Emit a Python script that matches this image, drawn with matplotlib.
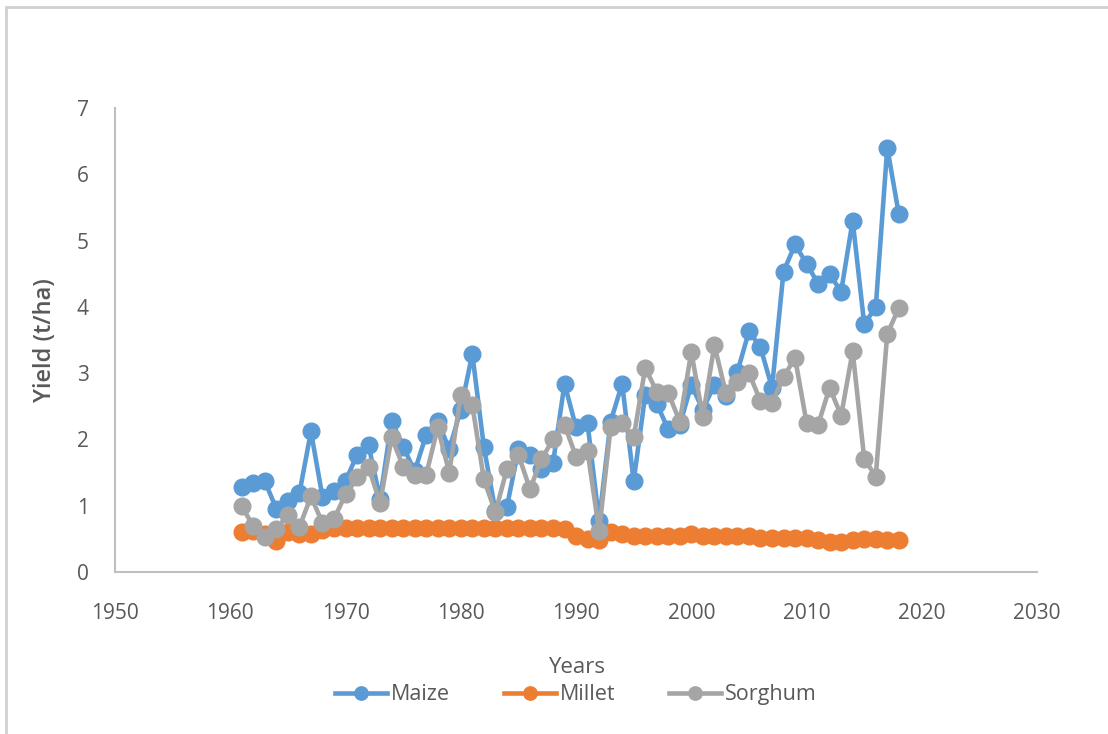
import matplotlib.pyplot as plt
from matplotlib.patches import Rectangle

years = list(range(1961, 2019))

maize = [1.28, 1.34, 1.37, 0.95, 1.07, 1.19, 2.12, 1.13, 1.22, 1.37,
         1.77, 1.91, 1.10, 2.28, 1.89, 1.52, 2.07, 2.28, 1.85, 2.45,
         3.29, 1.89, 0.92, 0.98, 1.85, 1.76, 1.55, 1.64, 2.84, 2.18,
         2.24, 0.77, 2.27, 2.84, 1.37, 2.67, 2.54, 2.15, 2.22, 2.82,
         2.45, 2.82, 2.66, 3.02, 3.63, 3.39, 2.78, 4.53, 4.94, 4.65,
         4.35, 4.49, 4.23, 5.30, 3.74, 3.99, 6.40, 5.40]

millet = [0.60, 0.62, 0.58, 0.47, 0.60, 0.58, 0.58, 0.64, 0.66, 0.66,
          0.66, 0.66, 0.66, 0.66, 0.66, 0.66, 0.66, 0.66, 0.66, 0.66,
          0.66, 0.66, 0.66, 0.66, 0.66, 0.66, 0.66, 0.66, 0.65, 0.55,
          0.50, 0.48, 0.60, 0.57, 0.55, 0.54, 0.54, 0.54, 0.55, 0.58,
          0.55, 0.55, 0.54, 0.55, 0.55, 0.52, 0.52, 0.52, 0.52, 0.52,
          0.48, 0.45, 0.45, 0.48, 0.50, 0.50, 0.48, 0.48]

sorghum = [0.99, 0.69, 0.53, 0.65, 0.86, 0.68, 1.14, 0.74, 0.80, 1.17,
           1.44, 1.58, 1.04, 2.03, 1.59, 1.46, 1.47, 2.18, 1.50, 2.67,
           2.52, 1.40, 0.90, 1.55, 1.77, 1.25, 1.70, 2.00, 2.22, 1.74,
           1.82, 0.62, 2.18, 2.25, 2.03, 3.08, 2.72, 2.70, 2.27, 3.32,
           2.34, 3.42, 2.70, 2.87, 3.00, 2.58, 2.55, 2.94, 3.23, 2.25,
           2.22, 2.78, 2.36, 3.33, 1.71, 1.44, 3.59, 3.98]

x_ticks = [1950, 1960, 1970, 1980, 1990, 2000, 2010, 2020, 2030]
y_ticks = [0, 1, 2, 3, 4, 5, 6, 7]

plt.rcParams['font.family'] = ['Open Sans', 'DejaVu Sans']
txt = '#595959'
axis_col = '#BFBFBF'

fig = plt.figure(figsize=(11.08, 7.34), dpi=100)
fig.patches.append(Rectangle((0.005, -0.01), 1.2, 1.0, transform=fig.transFigure,
                             fill=False, edgecolor='#D0D0D0', linewidth=2))

ax = fig.add_axes([0.1038, 0.2207, 0.8322, 0.6323])

series = [('Maize', maize, '#5B9BD5'),
          ('Millet', millet, '#ED7D31'),
          ('Sorghum', sorghum, '#A5A5A5')]
for name, vals, col in series:
    ax.plot(years, vals, color=col, linewidth=3.3, marker='o', markersize=12,
            label=name, clip_on=False)

ax.set_xlim(1950, 2030)
ax.set_ylim(0, 7)
ax.set_xticks(x_ticks)
ax.set_yticks(y_ticks)
ax.tick_params(length=0, labelsize=15, colors=txt)
ax.tick_params(axis='x', pad=22)
ax.tick_params(axis='y', pad=19)

for s in ['top', 'right']:
    ax.spines[s].set_visible(False)
for s in ['left', 'bottom']:
    ax.spines[s].set_color(axis_col)
    ax.spines[s].set_linewidth(1.5)

ax.set_xlabel('Years', fontsize=16, color=txt, labelpad=24)
ax.set_ylabel('Yield (t/ha)', fontsize=17, color=txt, fontweight='semibold', labelpad=14)

ax.legend(loc='upper center', bbox_to_anchor=(0.5, -0.2), ncol=3, frameon=False,
          fontsize=15.5, labelcolor=txt, handlelength=2.4, handletextpad=0.2,
          columnspacing=2.5, markerscale=0.8)

fig.savefig('out.png', dpi=100)
